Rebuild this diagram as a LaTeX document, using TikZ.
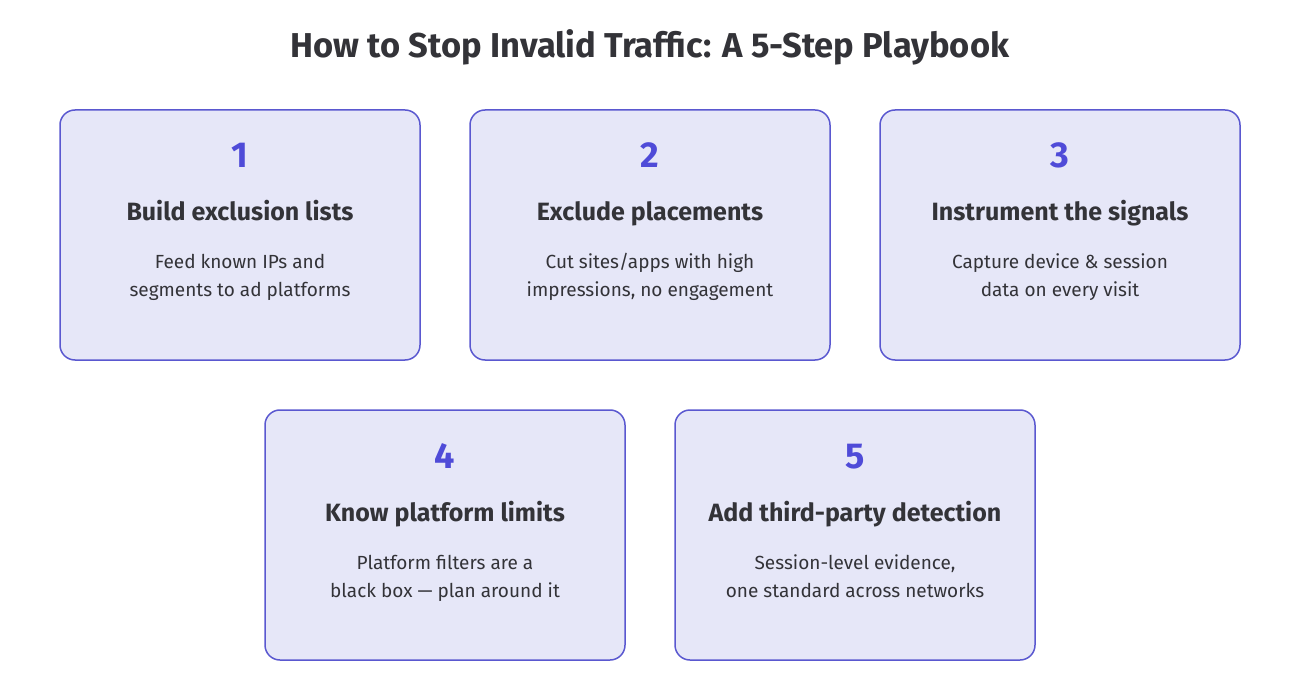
\documentclass[tikz,border=0pt]{standalone}
\usepackage{fontspec}
\setmainfont{Fira Sans}
\definecolor{boxfill}{HTML}{E6E7F8}
\definecolor{boxline}{HTML}{5A58D0}
\definecolor{numc}{HTML}{4F4BD8}
\definecolor{txt}{HTML}{333338}
\begin{document}
\begin{tikzpicture}[x=1pt,y=-1pt,
  card/.style={draw=boxline,line width=1.5pt,fill=boxfill,rounded corners=15pt,minimum width=360pt,minimum height=250pt,inner sep=0pt},
  num/.style={text=numc,font=\fontsize{36}{40}\selectfont\bfseries,anchor=base},
  head/.style={text=txt,font=\fontsize{25}{29}\selectfont\bfseries,anchor=base},
  body/.style={text=txt,font=\fontsize{19}{28}\selectfont,anchor=base}]
\path[use as bounding box,fill=white] (0,0) rectangle (1300,700);
\node[text=txt,font=\fontsize{34.5}{40}\selectfont\bfseries] (title) at (650,47) {How to Stop Invalid Traffic: A 5-Step Playbook};
\foreach \i/\cx/\cy/\h/\a/\b in {
 1/240/235/Build exclusion lists/Feed known IPs and/segments to ad platforms,
 2/650/235/Exclude placements/{Cut sites/apps with high}/{impressions, no engagement},
 3/1060/235/Instrument the signals/Capture device \& session/data on every visit,
 4/445/535/Know platform limits/Platform filters are a/black box — plan around it,
 5/855/535/Add third-party detection/{Session-level evidence,}/one standard across networks}{
 \node[card] (c\i) at (\cx,\cy) {};
 \node[num] (n\i) at (\cx,\cy-67) {\i};
 \node[head] (h\i) at (\cx,\cy-14) {\h};
 \node[body] (a\i) at (\cx,\cy+34) {\a};
 \node[body] (b\i) at (\cx,\cy+62) {\b};
}
\end{tikzpicture}
\end{document}
